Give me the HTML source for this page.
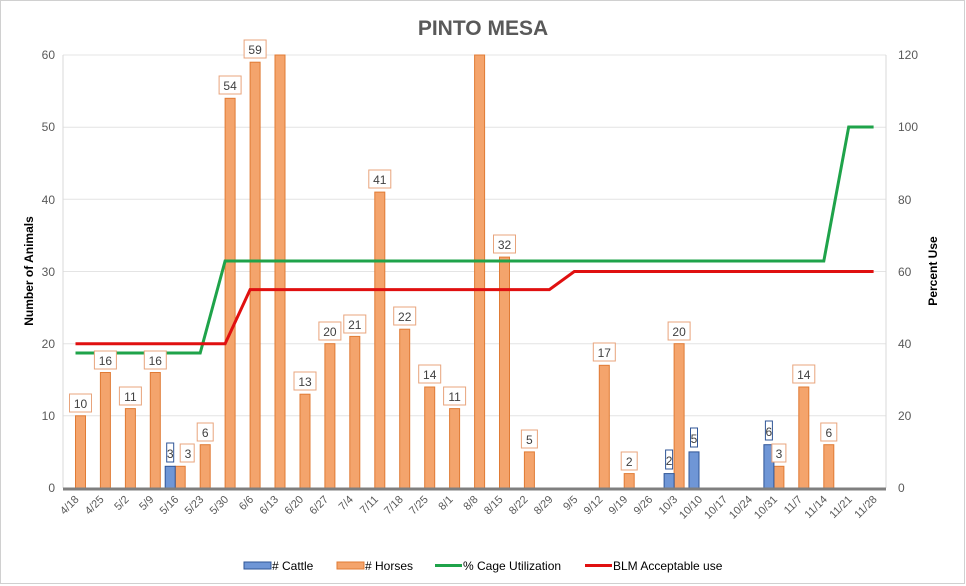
<!DOCTYPE html>
<html><head><meta charset="utf-8"><style>
html,body{margin:0;padding:0;background:#fff;}
svg{display:block;font-family:"Liberation Sans",sans-serif;}
</style></head><body>
<svg width="966" height="586" viewBox="0 0 966 586" xmlns="http://www.w3.org/2000/svg">
<rect x="0.5" y="0.5" width="964" height="583" fill="#fff" stroke="#d0d0d0"/>
<text x="483" y="35" text-anchor="middle" font-size="21" font-weight="bold" fill="#595959">PINTO MESA</text>
<g stroke="#e4e4e4" stroke-width="1">
<line x1="63" y1="55" x2="886" y2="55"/><line x1="63" y1="127.2" x2="886" y2="127.2"/>
<line x1="63" y1="199.3" x2="886" y2="199.3"/><line x1="63" y1="271.5" x2="886" y2="271.5"/>
<line x1="63" y1="343.7" x2="886" y2="343.7"/><line x1="63" y1="415.8" x2="886" y2="415.8"/>
</g>
<line x1="63" y1="55" x2="63" y2="488" stroke="#d9d9d9"/>
<line x1="886" y1="55" x2="886" y2="488" stroke="#d9d9d9"/>
<g font-size="12" fill="#595959" text-anchor="end">
<text x="55" y="492">0</text><text x="55" y="420">10</text><text x="55" y="348">20</text><text x="55" y="276">30</text><text x="55" y="204">40</text><text x="55" y="131">50</text><text x="55" y="59">60</text>
</g>
<g font-size="12" fill="#595959">
<text x="898" y="492">0</text><text x="898" y="420">20</text><text x="898" y="348">40</text><text x="898" y="276">60</text><text x="898" y="204">80</text><text x="898" y="131">100</text><text x="898" y="59">120</text>
</g>
<text transform="translate(33,271) rotate(-90)" text-anchor="middle" font-size="12" font-weight="bold" fill="#000">Number of Animals</text>
<text transform="translate(937,271) rotate(-90)" text-anchor="middle" font-size="12" font-weight="bold" fill="#000">Percent Use</text>
<g fill="#f4a46c" stroke="#e07b35" stroke-width="1">
<rect x="75.5" y="415.8" width="10" height="72.2"/>
<rect x="100.4" y="372.5" width="10" height="115.5"/>
<rect x="125.4" y="408.6" width="10" height="79.4"/>
<rect x="150.3" y="372.5" width="10" height="115.5"/>
<rect x="175.2" y="466.3" width="10" height="21.7"/>
<rect x="200.2" y="444.7" width="10" height="43.3"/>
<rect x="225.1" y="98.3" width="10" height="389.7"/>
<rect x="250.1" y="62.2" width="10" height="425.8"/>
<rect x="275" y="55" width="10" height="433"/>
<rect x="300" y="394.2" width="10" height="93.8"/>
<rect x="324.9" y="343.7" width="10" height="144.3"/>
<rect x="349.8" y="336.4" width="10" height="151.6"/>
<rect x="374.8" y="192.1" width="10" height="295.9"/>
<rect x="399.7" y="329.2" width="10" height="158.8"/>
<rect x="424.7" y="387" width="10" height="101"/>
<rect x="449.6" y="408.6" width="10" height="79.4"/>
<rect x="474.6" y="55" width="10" height="433"/>
<rect x="499.5" y="257.1" width="10" height="230.9"/>
<rect x="524.4" y="451.9" width="10" height="36.1"/>
<rect x="599.3" y="365.3" width="10" height="122.7"/>
<rect x="624.2" y="473.6" width="10" height="14.4"/>
<rect x="674.1" y="343.7" width="10" height="144.3"/>
<rect x="773.9" y="466.3" width="10" height="21.7"/>
<rect x="798.8" y="387" width="10" height="101"/>
<rect x="823.8" y="444.7" width="10" height="43.3"/>
</g>
<g fill="#6f96d6" stroke="#2f5597" stroke-width="1">
<rect x="165.2" y="466.3" width="10" height="21.7"/>
<rect x="664.1" y="473.6" width="10" height="14.4"/>
<rect x="689" y="451.9" width="10" height="36.1"/>
<rect x="763.9" y="444.7" width="10" height="43.3"/>
</g>
<line x1="63" y1="489" x2="886" y2="489" stroke="#7f7f7f" stroke-width="3"/>
<polyline points="75.5,353 200.2,353 225.1,261 823.8,261 848.7,127 873.6,127" fill="none" stroke="#1fa34a" stroke-width="3"/>
<polyline points="75.5,343.7 225.1,343.7 250.1,289.6 549.4,289.6 574.3,271.5 873.6,271.5" fill="none" stroke="#e01010" stroke-width="3"/>
<g fill="#fff" stroke="#e8a47c" stroke-width="1">
<rect x="69.5" y="394" width="22" height="18"/>
<rect x="94.4" y="351" width="22" height="18"/>
<rect x="119.4" y="387" width="22" height="18"/>
<rect x="144.3" y="351" width="22" height="18"/>
<rect x="180.2" y="444" width="14" height="18"/>
<rect x="197.2" y="423" width="16" height="18"/>
<rect x="219.1" y="76" width="22" height="18"/>
<rect x="244.1" y="40" width="22" height="18"/>
<rect x="294" y="372" width="22" height="18"/>
<rect x="318.9" y="322" width="22" height="18"/>
<rect x="343.8" y="315" width="22" height="18"/>
<rect x="368.8" y="170" width="22" height="18"/>
<rect x="393.7" y="307" width="22" height="18"/>
<rect x="418.7" y="365" width="22" height="18"/>
<rect x="443.6" y="387" width="22" height="18"/>
<rect x="493.5" y="235" width="22" height="18"/>
<rect x="521.4" y="430" width="16" height="18"/>
<rect x="593.3" y="343" width="22" height="18"/>
<rect x="621.2" y="452" width="16" height="18"/>
<rect x="668.1" y="322" width="22" height="18"/>
<rect x="771.9" y="444" width="14" height="18"/>
<rect x="792.8" y="365" width="22" height="18"/>
<rect x="820.8" y="423" width="16" height="18"/>
</g>
<g fill="#fff" stroke="#2f5597" stroke-width="1">
<rect x="166.7" y="443" width="7" height="19"/>
<rect x="665.6" y="450" width="7" height="19"/>
<rect x="690.5" y="428" width="7" height="19"/>
<rect x="765.4" y="421" width="7" height="19"/>
</g>
<g font-size="12" fill="#404040" text-anchor="middle">
<text x="80.5" y="408">10</text><text x="105.4" y="365">16</text><text x="130.4" y="401">11</text><text x="155.3" y="365">16</text>
<text x="188" y="458">3</text><text x="205.2" y="437">6</text><text x="230.1" y="90">54</text><text x="255.1" y="54">59</text>
<text x="305" y="386">13</text><text x="329.9" y="336">20</text><text x="354.8" y="329">21</text><text x="379.8" y="184">41</text>
<text x="404.7" y="321">22</text><text x="429.7" y="379">14</text><text x="454.6" y="401">11</text><text x="504.5" y="249">32</text>
<text x="529.4" y="444">5</text><text x="604.3" y="357">17</text><text x="629.2" y="466">2</text><text x="679.1" y="336">20</text>
<text x="779" y="458">3</text><text x="803.8" y="379">14</text><text x="828.8" y="437">6</text>
<text x="170.2" y="458">3</text><text x="669.1" y="465">2</text><text x="694" y="443">5</text><text x="768.9" y="436">6</text>
</g>
<g font-size="11" fill="#595959" text-anchor="end">
<text transform="translate(79.5,500) rotate(-45)">4/18</text>
<text transform="translate(104.4,500) rotate(-45)">4/25</text>
<text transform="translate(129.4,500) rotate(-45)">5/2</text>
<text transform="translate(154.3,500) rotate(-45)">5/9</text>
<text transform="translate(179.2,500) rotate(-45)">5/16</text>
<text transform="translate(204.2,500) rotate(-45)">5/23</text>
<text transform="translate(229.1,500) rotate(-45)">5/30</text>
<text transform="translate(254.1,500) rotate(-45)">6/6</text>
<text transform="translate(279,500) rotate(-45)">6/13</text>
<text transform="translate(304,500) rotate(-45)">6/20</text>
<text transform="translate(328.9,500) rotate(-45)">6/27</text>
<text transform="translate(353.8,500) rotate(-45)">7/4</text>
<text transform="translate(378.8,500) rotate(-45)">7/11</text>
<text transform="translate(403.7,500) rotate(-45)">7/18</text>
<text transform="translate(428.7,500) rotate(-45)">7/25</text>
<text transform="translate(453.6,500) rotate(-45)">8/1</text>
<text transform="translate(478.6,500) rotate(-45)">8/8</text>
<text transform="translate(503.5,500) rotate(-45)">8/15</text>
<text transform="translate(528.4,500) rotate(-45)">8/22</text>
<text transform="translate(553.4,500) rotate(-45)">8/29</text>
<text transform="translate(578.3,500) rotate(-45)">9/5</text>
<text transform="translate(603.3,500) rotate(-45)">9/12</text>
<text transform="translate(628.2,500) rotate(-45)">9/19</text>
<text transform="translate(653.2,500) rotate(-45)">9/26</text>
<text transform="translate(678.1,500) rotate(-45)">10/3</text>
<text transform="translate(703,500) rotate(-45)">10/10</text>
<text transform="translate(728,500) rotate(-45)">10/17</text>
<text transform="translate(752.9,500) rotate(-45)">10/24</text>
<text transform="translate(777.9,500) rotate(-45)">10/31</text>
<text transform="translate(802.8,500) rotate(-45)">11/7</text>
<text transform="translate(827.8,500) rotate(-45)">11/14</text>
<text transform="translate(852.7,500) rotate(-45)">11/21</text>
<text transform="translate(877.6,500) rotate(-45)">11/28</text>
</g>
<rect x="244" y="562" width="27" height="7" fill="#6f96d6" stroke="#2f5597"/>
<rect x="337" y="562" width="27" height="7" fill="#f4a46c" stroke="#e07b35"/>
<line x1="435" y1="565.5" x2="462" y2="565.5" stroke="#1fa34a" stroke-width="3"/>
<line x1="585" y1="565.5" x2="612" y2="565.5" stroke="#e01010" stroke-width="3"/>
<g font-size="12" fill="#000">
<text x="272" y="570">#  Cattle</text>
<text x="365" y="570"># Horses</text>
<text x="463" y="570">% Cage Utilization</text>
<text x="613" y="570">BLM Acceptable use</text>
</g>
</svg>
</body></html>
